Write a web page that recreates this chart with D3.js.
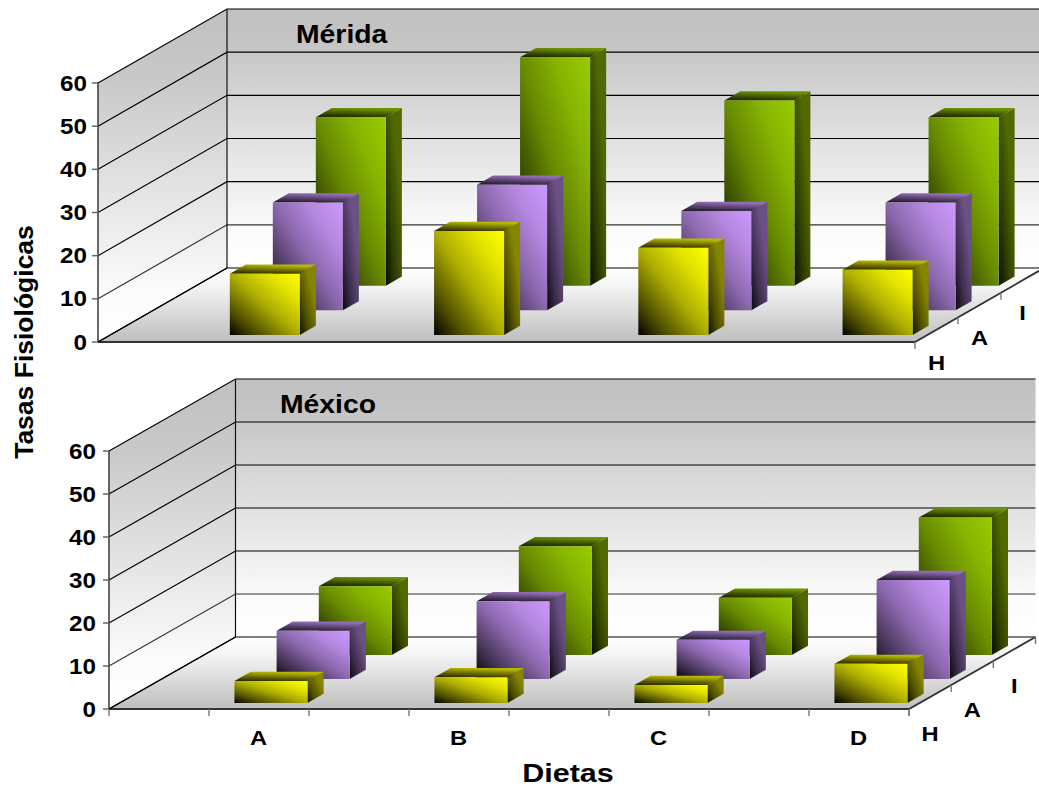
<!DOCTYPE html>
<html lang="es">
<head>
<meta charset="utf-8">
<title>Tasas Fisiológicas por dieta</title>
<script src="https://cdn.jsdelivr.net/npm/d3@7/dist/d3.min.js"></script>
<style>
  html, body { margin: 0; padding: 0; background: #fff; overflow: hidden; }
  svg { display: block; }
  text { font-family: "Liberation Sans", Arial, sans-serif; font-weight: bold; fill: #000; }
</style>
</head>
<body>
<svg id="chart" width="1039" height="787"></svg>
<script>
// Diets occupy every second slot of the eight-slot category axis.
const slots = ["s0", "A", "s2", "B", "s4", "C", "s6", "D"];
const categories = ["A", "B", "C", "D"];
const rows = ["H", "A", "I"];
const yTicks = [0, 10, 20, 30, 40, 50, 60];

const meridaH = [14.2, 24.1, 20.2, 15.1];
const meridaA = [25, 29.1, 23, 25];
const meridaI = [39, 52.9, 42.9, 39];

const mexicoH = [5.1, 6, 4.2, 9.1];
const mexicoA = [11.2, 18.1, 9.1, 23];
const mexicoI = [16, 25.3, 13.3, 32];

const seriesColors = { H: "#ffff00", A: "#cc99ff", I: "#99cc00" };

const panels = [
  { title: "Mérida", titleX: 296, titleY: 43, x0: 98, x1: 915, y0: 342, yTop: 83,
    depthX: 129, depthY: -74, values: { H: meridaH, A: meridaA, I: meridaI },
    xTicks: false, labelFront: 87, rowLabelDy: 40, barFrac: 0.686, barShift: 1.4,
    depthFrac: 0.372, depthOffset: 0.285 },
  { title: "México", titleX: 280, titleY: 413, x0: 109, x1: 909, y0: 709, yTop: 451,
    depthX: 126.5, depthY: -72, values: { H: mexicoH, A: mexicoA, I: mexicoI },
    xTicks: true, labelFront: 96, rowLabelDy: 44, barFrac: 0.73, barShift: 1.4,
    depthFrac: 0.385, depthOffset: 0.25 }
];

const svg = d3.select("#chart");
const defs = svg.append("defs");

function gradient(id, x1, y1, x2, y2, stops) {
  const g = defs.append("linearGradient").attr("id", id)
    .attr("x1", x1).attr("y1", y1).attr("x2", x2).attr("y2", y2);
  stops.forEach(([o, c]) => g.append("stop").attr("offset", o).attr("stop-color", c));
}

// Horizontally widened bold label anchored at (x, y)
function wideText(parent, x, y, size, stretch, anchor, str) {
  return parent.append("text")
    .attr("transform", `translate(${x},${y}) scale(${stretch},1)`)
    .attr("text-anchor", anchor).attr("font-size", size).text(str);
}

// Wall and floor shading
gradient("wall", 0, 0, 0, 1, [[0, "#c0c0c0"], [0.12, "#c4c4c4"], [0.85, "#fbfbfb"], [1, "#ffffff"]]);
gradient("side", 0, 0, 0, 1, [[0, "#c0c0c0"], [0.2, "#c8c8c8"], [0.85, "#fbfbfb"], [1, "#ffffff"]]);
gradient("floor", 0, 0, 0, 1, [[0, "#ffffff"], [0.25, "#f4f4f4"], [1, "#bebebe"]]);

// Bar shading: each face fades toward black, diagonally
rows.forEach(r => {
  const c = d3.rgb(seriesColors[r]);
  const k = f => d3.rgb(c.r * f, c.g * f, c.b * f).formatHex();
  gradient("front" + r, 0, 1, 1, 0, [[0, "#000"], [0.2, k(0.3)], [0.5, k(0.68)], [0.75, k(0.88)], [1, k(1)]]);
  gradient("right" + r, 0, 1, 0.7, 0.3, [[0, k(0.06)], [0.45, k(0.3)], [1, k(0.52)]]);
  gradient("top" + r, 0, 1, 0.3, 0, [[0, k(0.14)], [0.5, k(0.42)], [1, k(0.72)]]);
});

const poly = pts => pts.map(p => p.join(",")).join(" ");

panels.forEach(p => {
  const g = svg.append("g");
  const yScale = d3.scaleLinear().domain([0, 60]).range([p.y0, p.yTop]);
  const xScale = d3.scaleBand().domain(slots).range([p.x0, p.x1]);
  const depthScale = d3.scaleBand().domain(rows).range([0, 1]);
  const barW = xScale.bandwidth() * p.barFrac;
  const barD = depthScale.bandwidth() * p.depthFrac;
  const depthPad = depthScale.bandwidth() * p.depthOffset;

  // Oblique projection: x along the front, v upward, d into the depth (0..1)
  const proj = (x, v, d) => [x + d * p.depthX, yScale(v) + d * p.depthY];
  const segment = (a, b, color, width) => g.append("line")
    .attr("x1", a[0]).attr("y1", a[1]).attr("x2", b[0]).attr("y2", b[1])
    .attr("stroke", color).attr("stroke-width", width);

  const xL = p.x0, xR = p.x1;

  // Walls and floor
  g.append("polygon").attr("points", poly([proj(xL, 60, 1), proj(xR, 60, 1), proj(xR, 0, 1), proj(xL, 0, 1)]))
    .attr("fill", "url(#wall)");
  g.append("polygon").attr("points", poly([proj(xL, 60, 0), proj(xL, 60, 1), proj(xL, 0, 1), proj(xL, 0, 0)]))
    .attr("fill", "url(#side)");
  g.append("polygon").attr("points", poly([proj(xL, 0, 0), proj(xL, 0, 1), proj(xR, 0, 1), proj(xR, 0, 0)]))
    .attr("fill", "url(#floor)");

  // Gridlines across the side and back walls
  yTicks.forEach(t => {
    g.append("polyline").attr("points", poly([proj(xL, t, 0), proj(xL, t, 1), proj(xR, t, 1)]))
      .attr("fill", "none").attr("stroke", t === 10 ? "#333" : "#000").attr("stroke-width", 1.2);
  });
  // Wall and floor edges
  segment(proj(xL, 60, 0), proj(xL, 0, 0), "#444", 1.6);
  segment(proj(xL, 60, 1), proj(xL, 0, 1), "#111", 1.2);
  g.append("polyline").attr("points", poly([proj(xR, 0, 1), proj(xR, 0, 0), proj(xL, 0, 0)]))
    .attr("fill", "none").attr("stroke", "#333").attr("stroke-width", 1.8);
  segment(proj(xL, 0, 0), proj(xL, 0, 1), "#000", 1.3);

  // Y ticks and labels
  yTicks.forEach(t => {
    segment([xL - 6, yScale(t)], [xL, yScale(t)], "#666", 1.5);
    wideText(g, p.labelFront, yScale(t) + 7.5, 22, 1.1, "end", t);
  });

  // Depth ticks and row labels below the floor's right edge
  d3.range(4).forEach(i => {
    const e = proj(xR, 0, i / 3);
    segment(e, [e[0], e[1] + 7], "#777", 1.4);
  });
  rows.forEach(r => {
    const c = proj(xR, 0, depthScale(r) + depthScale.bandwidth() / 2);
    wideText(g, c[0], c[1] + p.rowLabelDy, 21, 1.13, "middle", r);
  });

  // Category ticks and labels appear only on the lower panel
  if (p.xTicks) {
    [...slots.map(s => xScale(s)), xR].forEach(x => {
      segment([x, p.y0], [x, p.y0 + 7], "#777", 1.4);
    });
    categories.forEach(c => {
      wideText(g, xScale(c) + xScale.bandwidth() / 2 - 0.5, p.y0 + 36, 21, 1.13, "middle", c);
    });
  }

  // Bars, painted back row first so nearer rows overlap
  [...rows].reverse().forEach(r => {
    categories.forEach((c, i) => {
      const v = p.values[r][i];
      const xa = xScale(c) + (xScale.bandwidth() - barW) / 2 + p.barShift;
      const xb = xa + barW;
      const d0 = depthScale(r) + depthPad;
      const d1 = d0 + barD;
      g.append("polygon").attr("points", poly([proj(xb, 0, d0), proj(xb, v, d0), proj(xb, v, d1), proj(xb, 0, d1)]))
        .attr("fill", `url(#right${r})`);
      g.append("polygon").attr("points", poly([proj(xa, v, d0), proj(xa, v, d1), proj(xb, v, d1), proj(xb, v, d0)]))
        .attr("fill", `url(#top${r})`);
      g.append("polygon").attr("points", poly([proj(xa, 0, d0), proj(xa, v, d0), proj(xb, v, d0), proj(xb, 0, d0)]))
        .attr("fill", `url(#front${r})`);
    });
  });

  wideText(g, p.titleX, p.titleY, 26, 1.09, "start", p.title);
});

// Shared axis titles
svg.append("text").attr("transform", "translate(33,342) rotate(-90)")
  .attr("text-anchor", "middle").attr("font-size", 26.5).text("Tasas Fisiológicas");
wideText(svg, 568, 781.5, 25, 1.22, "middle", "Dietas");
</script>
</body>
</html>
